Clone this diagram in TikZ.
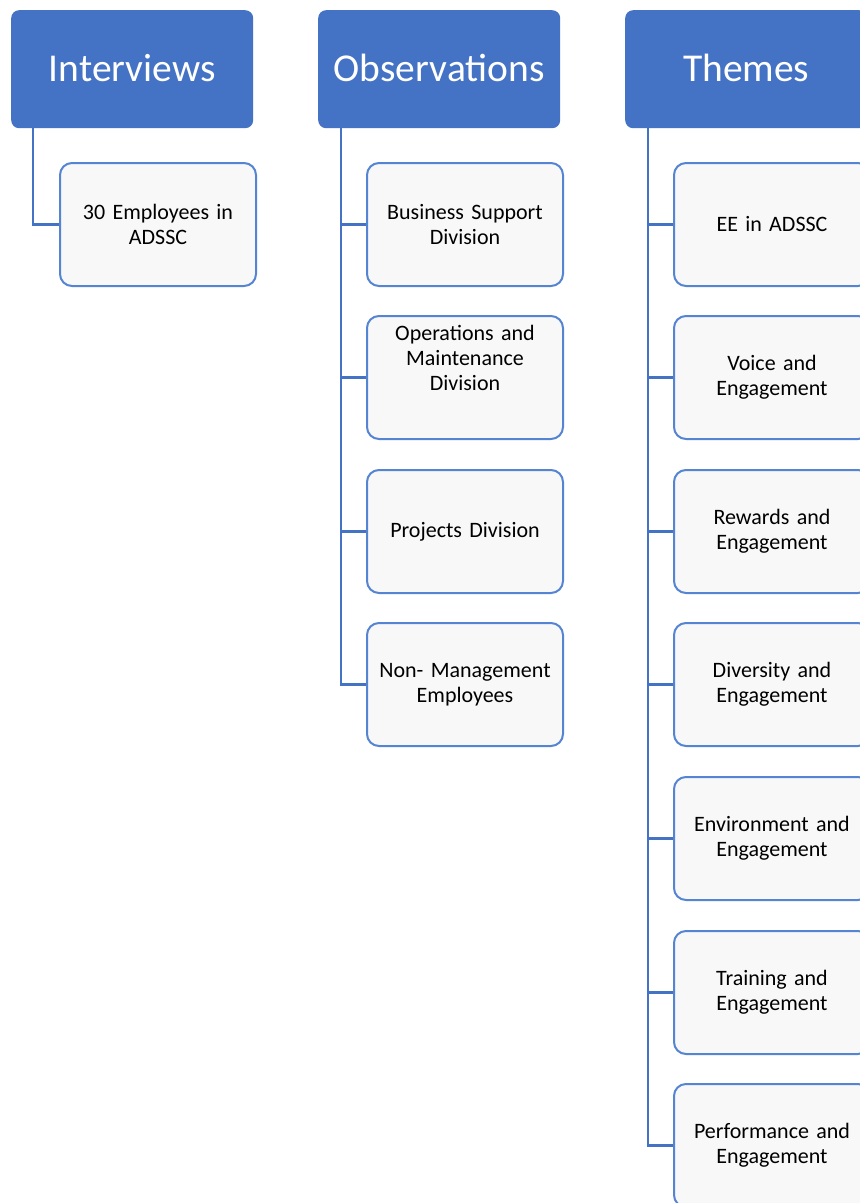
\documentclass[tikz,border=0pt]{standalone}
\usepackage{fontspec}
\setmainfont{Carlito}
\definecolor{hdrblue}{HTML}{4472C4}
\definecolor{boxedge}{HTML}{5585D2}
\definecolor{boxfill}{HTML}{F8F8F8}
\begin{document}
\begin{tikzpicture}[x=1pt,y=-1pt,
  hdr/.style={draw=none,fill=hdrblue,rounded corners=8pt,minimum width=242pt,minimum height=118pt,
    text=white,font=\fontsize{39.5}{44}\selectfont,inner sep=0pt,anchor=north west},
  child/.style={draw=boxedge,line width=2pt,fill=boxfill,rounded corners=12pt,minimum width=196pt,minimum height=123pt,
    font=\fontsize{22}{25}\selectfont,align=center,text width=186pt,inner sep=0pt,anchor=north west},
  conn/.style={draw=hdrblue,line width=2.5pt}]
\useasboundingbox (0,0) rectangle (860,1203);
\clip (0,0) rectangle (860,1203);
\fill[white] (0,0) rectangle (860,1203);
% headers
\node[hdr] (h1) at (11,10) {\raisebox{2pt}{Interviews}};
\node[hdr] (h2) at (318,10) {\raisebox{2pt}{Observations}};
\node[hdr] (h3) at (625,10) {\raisebox{2pt}{Themes}};
% coordinates for trunks
\coordinate (t1) at (33,128);
\coordinate (t2) at (341,128);
\coordinate (t3) at (648,128);
% Interviews
\node[child] (i1) at (59,162) {30 Employees in\\ADSSC};
% Observations
\node[child] (o1) at (366,162) {Business Support\\Division};
\node[child] (o2) at (366,315) {Operations and\\Maintenance\\Division\\[15pt]\mbox{}};
\node[child] (o3) at (366,469) {Projects Division};
\node[child] (o4) at (366,622) {Non- Management\\Employees};
% Themes
\node[child] (m1) at (673,162) {EE in ADSSC};
\node[child] (m2) at (673,315) {Voice and\\Engagement};
\node[child] (m3) at (673,469) {Rewards and\\Engagement};
\node[child] (m4) at (673,622) {Diversity and\\Engagement};
\node[child] (m5) at (673,776) {Environment and\\Engagement};
\node[child] (m6) at (673,930) {Training and\\Engagement};
\node[child] (m7) at (673,1083) {Performance and\\Engagement};
% connectors
\draw[conn] (t1) |- (i1.west);
\draw[conn] (t2) |- (o4.west);
\foreach \n in {o1,o2,o3}{\draw[conn] (t2 |- \n.west) -- (\n.west);}
\draw[conn] (t3) |- (m7.west);
\foreach \n in {m1,m2,m3,m4,m5,m6}{\draw[conn] (t3 |- \n.west) -- (\n.west);}
\end{tikzpicture}
\end{document}
